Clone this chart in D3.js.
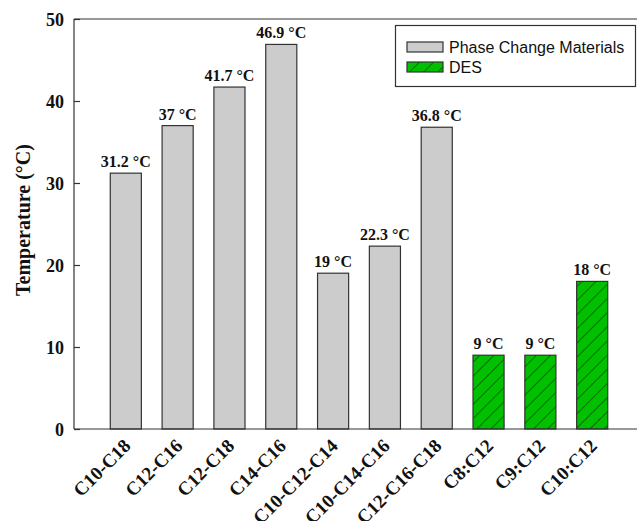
<!DOCTYPE html>
<html>
<head>
<meta charset="utf-8">
<script src="https://cdn.jsdelivr.net/npm/d3@7"></script>
<style>
  html, body { margin: 0; padding: 0; background: #fff; }
  svg { display: block; }
</style>
</head>
<body>
<svg id="chart" width="637" height="521"></svg>
<script>
// Melting temperatures of phase change materials and deep eutectic solvents
const categories = ["C10-C18", "C12-C16", "C12-C18", "C14-C16", "C10-C12-C14",
                    "C10-C14-C16", "C12-C16-C18", "C8:C12", "C9:C12", "C10:C12"];
const temperatures = [31.2, 37, 41.7, 46.9, 19, 22.3, 36.8, 9, 9, 18];
const groups = ["PCM", "PCM", "PCM", "PCM", "PCM", "PCM", "PCM", "DES", "DES", "DES"];
const seriesNames = ["Phase Change Materials", "DES"];
const yTicks = [0, 10, 20, 30, 40, 50];

const svg = d3.select("#chart");
const plotLeft = 74, plotRight = 644, plotTop = 19, plotBottom = 429;

const x = d3.scaleBand().domain(categories).range([plotLeft, plotRight])
  .paddingInner(0.4).paddingOuter(0.7);
const y = d3.scaleLinear().domain([0, 50]).range([plotBottom, plotTop]);

// diagonal hatch used for the DES bars
const defs = svg.append("defs");
const pat = defs.append("pattern")
  .attr("id", "hatch").attr("patternUnits", "userSpaceOnUse")
  .attr("width", 10).attr("height", 10)
  .attr("patternTransform", "rotate(45)");
pat.append("rect").attr("width", 10).attr("height", 10).attr("fill", "#00c000");
pat.append("line").attr("x1", 0).attr("y1", 0).attr("x2", 0).attr("y2", 10)
  .attr("stroke", "#111").attr("stroke-width", 1);

const fillFor = g => g === "PCM" ? "#cccccc" : "url(#hatch)";

// frame: top edge extends to the right
svg.append("line").attr("x1", plotLeft).attr("x2", 637).attr("y1", plotTop).attr("y2", plotTop)
  .attr("stroke", "#333").attr("stroke-width", 1.2);

// bars
const data = categories.map((c, i) => ({ c, v: temperatures[i], g: groups[i] }));
svg.append("g").selectAll("rect").data(data).join("rect")
  .attr("x", d => x(d.c))
  .attr("y", d => y(d.v))
  .attr("width", x.bandwidth())
  .attr("height", d => y(0) - y(d.v))
  .attr("fill", d => fillFor(d.g))
  .attr("stroke", "#333").attr("stroke-width", 1.2);

// value labels
svg.append("g").selectAll("text").data(data).join("text")
  .attr("x", d => x(d.c) + x.bandwidth() / 2)
  .attr("y", d => y(d.v) - 6)
  .attr("text-anchor", "middle")
  .attr("font-family", "'Liberation Serif', 'Times New Roman', serif")
  .attr("font-weight", "bold").attr("font-size", 16)
  .attr("fill", "#111")
  .text(d => d.v + " °C");

// y axis
const yAxis = svg.append("g").attr("transform", `translate(${plotLeft},0)`)
  .call(d3.axisRight(y).tickValues(yTicks).tickSize(6).tickFormat(d3.format("d")));
yAxis.select(".domain").attr("stroke", "#333").attr("stroke-width", 1.2)
  .attr("d", `M0,${plotTop}V${plotBottom}`);
yAxis.selectAll(".tick line").attr("stroke", "#333").attr("stroke-width", 1.2);
yAxis.selectAll(".tick text")
  .attr("x", -10).attr("text-anchor", "end").attr("dy", "0.34em")
  .attr("font-family", "'Liberation Serif', 'Times New Roman', serif")
  .attr("font-weight", "bold").attr("font-size", 18).attr("fill", "#111");

// x axis
const xAxis = svg.append("g").attr("transform", `translate(0,${plotBottom})`)
  .call(d3.axisBottom(x).tickSize(0));
xAxis.select(".domain").attr("stroke", "#333").attr("stroke-width", 1.2)
  .attr("d", `M${plotLeft},0H637`);
xAxis.selectAll(".tick text")
  .attr("text-anchor", "end")
  .attr("font-family", "'Liberation Serif', 'Times New Roman', serif")
  .attr("font-weight", "bold").attr("font-size", 19).attr("fill", "#111")
  .attr("transform", "translate(6,18) rotate(-45)")
  .attr("x", 0).attr("y", 0).attr("dy", 0);

// y axis title
svg.append("text")
  .attr("transform", `translate(30,220) rotate(-90)`)
  .attr("text-anchor", "middle")
  .attr("font-family", "'Liberation Serif', 'Times New Roman', serif")
  .attr("font-weight", "bold").attr("font-size", 20).attr("fill", "#111")
  .text("Temperature (°C)");

// legend
const lg = svg.append("g");
lg.append("rect").attr("x", 395.5).attr("y", 25.5).attr("width", 240).attr("height", 61)
  .attr("fill", "#fff").attr("stroke", "#333").attr("stroke-width", 1.2);
seriesNames.forEach((name, i) => {
  const yy = 42 + i * 20;
  lg.append("rect").attr("x", 407).attr("y", yy).attr("width", 36).attr("height", 10)
    .attr("fill", fillFor(i === 0 ? "PCM" : "DES"))
    .attr("stroke", "#333").attr("stroke-width", 1.2);
  lg.append("text").attr("x", 449).attr("y", yy + 10.5)
    .attr("font-family", "'Liberation Sans', Arial, sans-serif")
    .attr("font-size", 16).attr("fill", "#111")
    .text(name);
});
</script>
</body>
</html>
